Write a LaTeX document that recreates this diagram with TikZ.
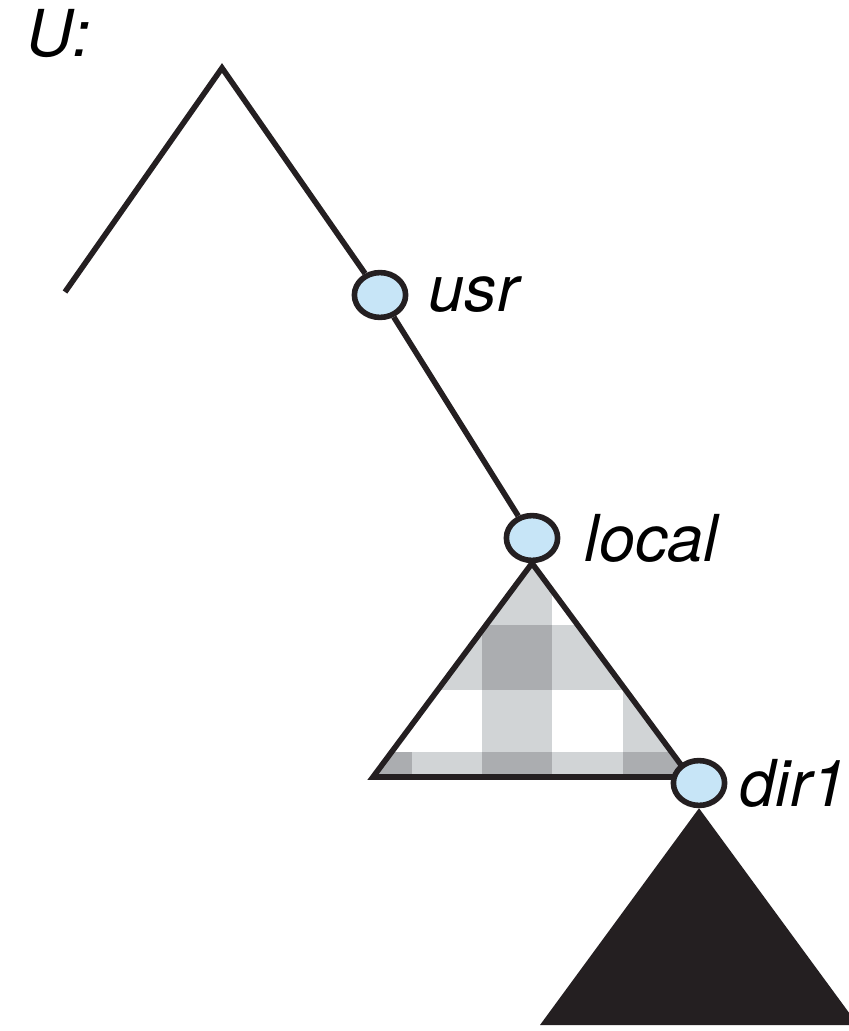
\documentclass[tikz,border=0pt]{standalone}
\usepackage{fontspec}
\setmainfont{TeX Gyre Heros}
\usetikzlibrary{positioning}
\usetikzlibrary{backgrounds}
\usetikzlibrary{shapes.geometric}
\definecolor{mline}{rgb}{0.14, 0.12, 0.13}
\definecolor{mblue}{rgb}{0.78, 0.9, 0.97}
\definecolor{mlight}{rgb}{0.82, 0.83, 0.84}
\definecolor{mdark}{rgb}{0.67, 0.68, 0.69}
\tikzset{dirnode/.style = {ellipse, draw=mline, fill=mblue, line width=0.14cm,
                           minimum width=1.28cm, minimum height=1.12cm, inner sep=0},
         dirlabel/.style = {font=\fontsize{46}{54}\selectfont\itshape, inner sep=0},
         dirline/.style = {draw=mline, line width=0.14cm}}

\begin{document}
\begin{tikzpicture}[x=0.025cm, y=-0.025cm]
    \useasboundingbox (0, 0) rectangle (848, 1031);
    \clip (0, 0) rectangle (848, 1031);

    \coordinate (root) at (222, 68);
    \coordinate (leaf) at (65, 292);
    \node [dirnode] (usr) at (380, 295) {};
    \node [dirnode] (local) at (532, 538) {};
    \node [dirnode] (dir1) at (699, 783) {};

    \node [dirlabel, anchor=base west] (ulabel) at (26, 57) {U:};
    \node [dirlabel, right=0.5cm of usr] (usrlabel) {usr};
    \node [dirlabel, right=0.6cm of local] (locallabel) {local};
    \node [dirlabel, right=0.3cm of dir1] (dirlabel) {dir1};

    \begin{scope}[on background layer]
      \begin{scope}
        \clip (local.south) -- (373, 777) -- (690, 777) -- cycle;
        \foreach \xa/\ya/\xb/\yb/\tone in {482/540/552/625/mlight,
                                           340/625/720/690/mlight, 482/625/552/690/mdark,
                                           482/690/552/752/mlight, 623/690/720/752/mlight,
                                           340/752/720/780/mlight, 340/752/412/780/mdark,
                                           482/752/552/780/mdark, 623/752/720/780/mdark} {
          \fill [\tone] (\xa, \ya) rectangle (\xb, \yb);
        }
      \end{scope}
      \draw [dirline] (local.south) -- (373, 777) -- (690, 777) -- cycle;
      \fill [mline] (dir1.south) -- (540, 1025) -- (858, 1025) -- cycle;
      \draw [dirline] (leaf) -- (root) -- (usr);
      \draw [dirline] (usr) -- (local);
    \end{scope}
\end{tikzpicture}
\end{document}
